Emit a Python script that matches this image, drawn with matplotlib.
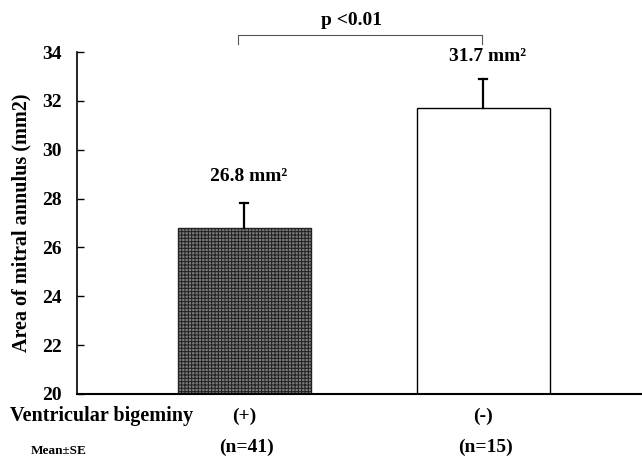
import matplotlib
matplotlib.use("Agg")
import matplotlib.pyplot as plt

plt.rcParams['font.family'] = 'Liberation Serif'
plt.rcParams['font.weight'] = 'bold'
plt.rcParams['hatch.linewidth'] = 0.7

groups = ['(+)', '(-)']
counts = ['(n=41)', '(n=15)']
means = [26.8, 31.7]
se = [1.0, 1.2]
value_labels = ['26.8 mm²', '31.7 mm²']
yticks = [20, 22, 24, 26, 28, 30, 32, 34]

fig = plt.figure(figsize=(6.42, 4.57), dpi=100)
ax = fig.add_axes([0.12, 0.138, 0.88, 0.748])

pos = [1, 2]
bars = ax.bar(pos, [m - 20 for m in means], bottom=20, width=0.556,
              color=['#7a7a7a', 'white'], edgecolor='black', linewidth=1.0)
bars[0].set_hatch('+++++')
bars[0].set_edgecolor('#202020')

# nur obere Fehlerbalken
for x, m, s in zip(pos, means, se):
    ax.plot([x, x], [m, m + s], color='black', lw=1.6)
    ax.plot([x - 0.018, x + 0.018], [m + s, m + s], color='black', lw=1.6)

for x, m, lab in zip(pos, means, value_labels):
    ax.text(x + 0.02, m + 2.1, lab, ha='center', va='center', fontsize=14, fontweight='bold')

ax.set_xlim(0.301, 2.665)
ax.set_ylim(20, 34)
ax.set_yticks(yticks)
ax.set_xticks([])
ax.tick_params(axis='y', direction='in', length=5, width=1, labelsize=14, pad=11)
for t in ax.get_yticklabels():
    t.set_fontweight('bold')
ax.spines['top'].set_visible(False)
ax.spines['right'].set_visible(False)
ax.spines['left'].set_linewidth(1.2)
ax.spines['bottom'].set_linewidth(1.5)

ax.set_ylabel('Area of mitral annulus (mm2)', fontsize=14.5, fontweight='bold')
ax.yaxis.set_label_coords(-0.08, 0.5)

# Signifikanzklammer
ax.plot([0.976, 0.976, 1.996, 1.996], [34.35, 34.7, 34.7, 34.35], color='#555555', lw=0.8, clip_on=False)
ax.text(1.45, 35.3, 'p <0.01', ha='center', va='center', fontsize=14, fontweight='bold')

tr = ax.get_xaxis_transform()
for x, g, n in zip(pos, groups, counts):
    ax.text(x, -0.067, g, transform=tr, ha='center', va='center', fontsize=14, fontweight='bold')
    ax.text(x + 0.01, -0.155, n, transform=tr, ha='center', va='center', fontsize=14, fontweight='bold')

fig.text(0.158, 1 - 416 / 457, 'Ventricular bigeminy', ha='center', va='center', fontsize=14.5, fontweight='bold')
fig.text(0.092, 1 - 451 / 457, 'Mean±SE', ha='center', va='center', fontsize=9.5, fontweight='bold')

fig.savefig('out.png', dpi=100)
